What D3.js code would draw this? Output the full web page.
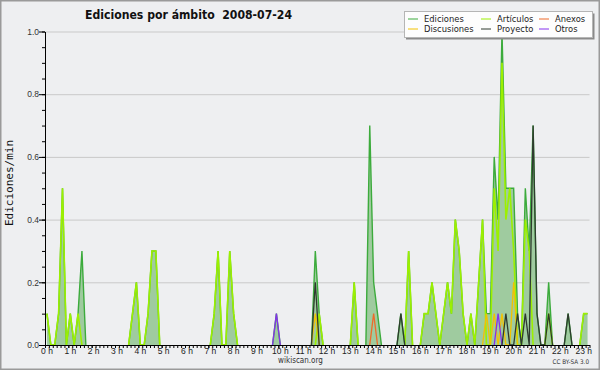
<!DOCTYPE html>
<html>
<head>
<meta charset="utf-8">
<script src="https://cdn.jsdelivr.net/npm/d3@7"></script>
<style>
  html, body { margin: 0; padding: 0; background: #eeeff1; }
  svg { display: block; font-family: "DejaVu Sans", sans-serif; font-stretch: condensed; }
</style>
</head>
<body>
<svg id="chart" width="600" height="370"></svg>
<script>
// one value per 10-minute bin (edits per minute), 0:00 -> 23:10
const hourLabels = ["0 h", "1 h", "2 h", "3 h", "4 h", "5 h", "6 h", "7 h", "8 h", "9 h", "10 h", "11 h",
  "12 h", "13 h", "14 h", "15 h", "16 h", "17 h", "18 h", "19 h", "20 h", "21 h", "22 h", "23 h"]
const yTicks = [0, 0.2, 0.4, 0.6, 0.8, 1.0]

const ediciones = [
  0.1, 0, 0, 0.1, 0.5, 0,       // 0 h
  0.1, 0, 0.1, 0.3, 0, 0,       // 1 h
  0, 0, 0, 0, 0, 0,             // 2 h
  0, 0, 0, 0, 0.1, 0.2,         // 3 h
  0, 0, 0.1, 0.3, 0.3, 0,       // 4 h
  0, 0, 0, 0, 0, 0,             // 5 h
  0, 0, 0, 0, 0, 0,             // 6 h
  0, 0.1, 0.3, 0, 0, 0.3,       // 7 h
  0.1, 0, 0, 0, 0, 0,           // 8 h
  0, 0, 0, 0, 0, 0.1,           // 9 h
  0, 0, 0, 0, 0, 0,             // 10 h
  0, 0, 0, 0.3, 0.1, 0,         // 11 h
  0, 0, 0, 0, 0, 0,             // 12 h
  0, 0.2, 0, 0, 0, 0.7,         // 13 h
  0.2, 0.1, 0, 0, 0, 0,         // 14 h
  0, 0.1, 0, 0.3, 0, 0,         // 15 h
  0, 0.1, 0.1, 0.2, 0.1, 0,     // 16 h
  0.1, 0.2, 0.1, 0.4, 0.3, 0.1, // 17 h
  0, 0.1, 0, 0.2, 0.4, 0.1,     // 18 h
  0.1, 0.6, 0.4, 1.0, 0.5, 0.5, // 19 h
  0.5, 0.1, 0, 0.5, 0.3, 0.7,   // 20 h
  0.1, 0, 0, 0.2, 0, 0,         // 21 h
  0, 0, 0.1, 0, 0, 0,           // 22 h
  0.1, 0.1                      // 23 h
]

const articulos = [
  0.1, 0, 0, 0.1, 0.5, 0,
  0.1, 0, 0.1, 0, 0, 0,
  0, 0, 0, 0, 0, 0,
  0, 0, 0, 0, 0.1, 0.2,
  0, 0, 0.1, 0.3, 0.3, 0,
  0, 0, 0, 0, 0, 0,
  0, 0, 0, 0, 0, 0,
  0, 0.1, 0.3, 0, 0, 0.3,
  0.1, 0, 0, 0, 0, 0,
  0, 0, 0, 0, 0, 0,
  0, 0, 0, 0, 0, 0,
  0, 0, 0, 0, 0.1, 0,
  0, 0, 0, 0, 0, 0,
  0, 0.2, 0, 0, 0, 0,
  0, 0, 0, 0, 0, 0,
  0, 0, 0, 0.3, 0, 0,
  0, 0.1, 0.1, 0.2, 0.1, 0,
  0.1, 0.2, 0.1, 0.4, 0.3, 0.1,
  0, 0.1, 0, 0.2, 0.4, 0,
  0, 0.5, 0.3, 0.9, 0.4, 0.5,
  0.3, 0, 0, 0.4, 0.3, 0,
  0, 0, 0, 0.1, 0, 0,
  0, 0, 0, 0, 0, 0,
  0.1, 0.1
]

// sparse series: [bin, value]
const discusiones = [[69, 0.1], [113, 0.1], [115, 0.1], [117, 0.1], [120, 0.2]]
const anexos = [[84, 0.1]]
const proyecto = [[69, 0.2], [91, 0.1], [118, 0.1], [121, 0.1], [123, 0.1], [125, 0.7], [126, 0.1], [129, 0.1], [134, 0.1]]
const otros = [[59, 0.1], [116, 0.1]]

const svg = d3.select("#chart")
const W = 600, H = 370
const plot = { left: 45, right: 589.5, top: 31.5, bottom: 345 }
const nBins = ediciones.length

const x = d3.scaleLinear().domain([0, nBins * 10]).range([plot.left, plot.right])
const y = d3.scaleLinear().domain([0, 1]).range([plot.bottom, plot.top])

const dense = (pairs) => {
  const a = new Array(nBins).fill(0)
  pairs.forEach(([i, v]) => (a[i] = v))
  return a
}

const series = [
  { name: "Ediciones", values: ediciones, color: "#3cab3c", w: 1.4 },
  { name: "Artículos", values: articulos, color: "#9cf000", w: 1.6 },
  { name: "Discusiones", values: dense(discusiones), color: "#f2c200", w: 1.3 },
  { name: "Anexos", values: dense(anexos), color: "#ef6a2a", w: 1.3 },
  { name: "Otros", values: dense(otros), color: "#8530ee", w: 1.3 },
  { name: "Proyecto", values: dense(proyecto), color: "#2e3a2e", w: 1.3 }
]

// frame
svg.append("rect").attr("x", 0.75).attr("y", 0.75).attr("width", W - 1.5).attr("height", H - 1.5)
  .attr("fill", "#eeeff1").attr("stroke", "#9a9a9a").attr("stroke-width", 1.5)

// grid
svg.append("g").attr("transform", `translate(${plot.left},0)`)
  .call(d3.axisLeft(y).tickValues(yTicks.slice(1)).tickSize(-(plot.right - plot.left)).tickFormat(""))
  .call((g) => g.select(".domain").remove())
  .call((g) => g.selectAll("line").attr("stroke", "#c9c9c9"))

const xb = (d, i) => x(i * 10 + 5)
const area = d3.area().x(xb).y0(y(0)).y1((d) => y(d))

svg.append("path").datum(ediciones).attr("d", area).attr("fill", "#9fcb9f")

series.forEach((s) => {
  const v = s.values
  // skip the flat runs at zero so nothing is painted along the baseline
  const line = d3.line().x(xb).y((d) => y(d))
    .defined((d, i) => d > 0 || v[i - 1] > 0 || v[i + 1] > 0)
  svg.append("path").datum(v).attr("d", line)
    .attr("fill", "none").attr("stroke", s.color).attr("stroke-width", s.w)
})

// y axis
svg.append("g").attr("transform", `translate(${plot.left},0)`)
  .call(d3.axisLeft(y).ticks(20).tickSize(3).tickFormat("").tickSizeOuter(0))
  .call((g) => g.select(".domain").remove())
svg.append("g").attr("transform", `translate(${plot.left},0)`)
  .call(d3.axisLeft(y).tickValues(yTicks).tickFormat(d3.format(".1f")).tickSize(6).tickPadding(0).tickSizeOuter(0))
  .call((g) => g.selectAll("text").attr("font-size", 8.5).attr("fill", "#333").attr("font-family", null))

// x axis
const tenMin = d3.range(0, nBins * 10 + 1, 10)
svg.append("g").attr("transform", `translate(0,${plot.bottom})`)
  .call(d3.axisBottom(x).tickValues(tenMin).tickSize(3).tickFormat("").tickSizeOuter(0))
svg.append("g").attr("transform", `translate(0,${plot.bottom})`)
  .call(d3.axisBottom(x).tickValues(hourLabels.map((d, h) => h * 60)).tickSize(3).tickPadding(0)
    .tickFormat((d, i) => hourLabels[i]))
  .call((g) => g.select(".domain").remove())
  .call((g) => g.selectAll("text").attr("font-size", 8.5).attr("fill", "#222").attr("dx", 1.5).attr("font-family", null))

svg.selectAll(".tick line").attr("stroke-width", 1)

// titles
svg.append("text").attr("x", 85).attr("y", 18.5).attr("font-size", 12.5).attr("font-weight", "bold")
  .attr("textLength", 207).attr("lengthAdjust", "spacingAndGlyphs").attr("fill", "#111")
  .attr("xml:space", "preserve").text("Ediciones por ámbito  2008-07-24")

svg.append("text").attr("transform", "translate(13.3,183) rotate(-90)").attr("text-anchor", "middle")
  .attr("font-family", "DejaVu Sans Mono").style("font-stretch", "normal").attr("font-size", 11).attr("fill", "#111")
  .text("Ediciones/min")

svg.append("text").attr("x", 300.5).attr("y", 363).attr("text-anchor", "middle").attr("font-size", 8)
  .attr("fill", "#333").text("wikiscan.org")
svg.append("text").attr("x", 589).attr("y", 364).attr("text-anchor", "end").attr("font-size", 6.3)
  .attr("fill", "#333").text("CC BY-SA 3.0")

// legend
const legendItems = [series[0], series[1], series[3], series[2], series[5], series[4]]
const legendCols = [408, 481, 539]
const legend = svg.append("g")
legend.append("rect").attr("x", 406).attr("y", 13.5).attr("width", 188.5).attr("height", 26).attr("fill", "#8a8a8a")
legend.append("rect").attr("x", 404.5).attr("y", 11.5).attr("width", 188).attr("height", 26)
  .attr("fill", "#fdfdfd").attr("stroke", "#b5b5b5")
legendItems.forEach((s, k) => {
  const lx = legendCols[k % 3]
  const ly = 19 + Math.floor(k / 3) * 10
  legend.append("line").attr("x1", lx).attr("x2", lx + 10).attr("y1", ly).attr("y2", ly)
    .attr("stroke", s.color).attr("stroke-width", 1)
  legend.append("text").attr("x", lx + 16).attr("y", ly + 3.3).attr("font-size", 9.3).attr("fill", "#222").text(s.name)
})
</script>
</body>
</html>
